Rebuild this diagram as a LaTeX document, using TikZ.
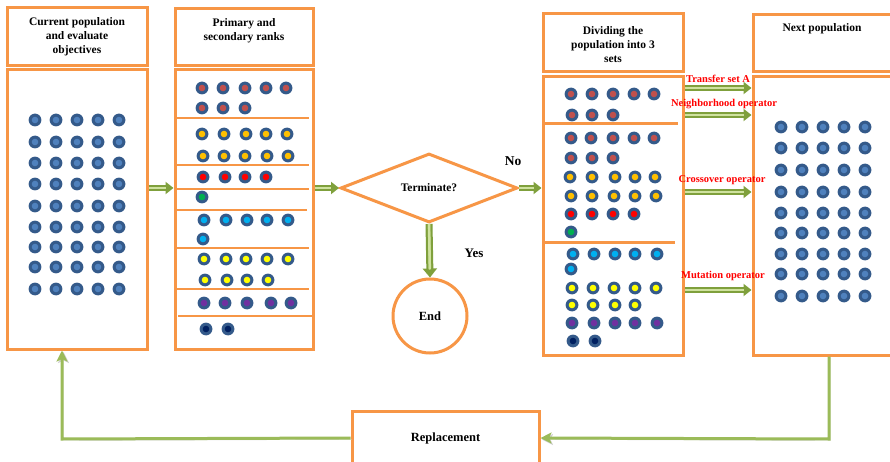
\documentclass[tikz,border=0pt]{standalone}
\usepackage{fontspec}
\setmainfont{Liberation Serif}
\usetikzlibrary{shapes.geometric,arrows.meta,calc}
\definecolor{org}{HTML}{F79646}
\definecolor{dotblue}{HTML}{345A8A}
\definecolor{dotin}{HTML}{4F81BD}
\definecolor{rbrown}{HTML}{C0504D}
\definecolor{gold}{HTML}{FFC000}
\definecolor{lblue}{HTML}{00B0F0}
\definecolor{ylw}{HTML}{FFFF00}
\definecolor{purp}{HTML}{7030A0}
\definecolor{navyc}{HTML}{002060}
\definecolor{grn}{HTML}{00B050}
\definecolor{adark}{HTML}{7FA03C}
\definecolor{alight}{HTML}{CFE29F}
\definecolor{loopg}{HTML}{9BBB59}
\newcommand\popdot[3]{\fill[dotblue] (#1,#2) circle (6.4pt); \fill[#3] (#1,#2) circle (3.3pt);}
\newcommand\poprow[3]{\foreach \xx in {#2} {\popdot{\xx}{#1}{#3}}}
\tikzset{
  box/.style={draw=org, line width=3pt, rectangle, inner sep=0pt, fill=white},
  hdr/.style={font=\bfseries\fontsize{11.5}{14}\selectfont, align=center, inner sep=0pt},
  sepline/.style={draw=org, line width=1.3pt},
  thicksep/.style={draw=org, line width=3pt},
  garrow/.style={draw=adark, line width=6pt, -{Triangle[length=8pt,width=12pt]},
     postaction={draw=alight, line width=2.2pt, shorten >=8pt, -}},
  lab/.style={text=red, font=\bfseries\fontsize{10.5}{12}\selectfont, inner sep=0pt},
  txt/.style={font=\bfseries\fontsize{11.5}{14}\selectfont, inner sep=0pt},
  loopline/.style={draw=loopg, line width=3pt, -{Stealth[length=11pt,width=11pt,inset=2.5pt]},
     preaction={draw=black!18, transform canvas={shift={(1.5pt,-1.5pt)}}}},
}
\begin{document}
\begin{tikzpicture}[x=1pt,y=-1pt]
\useasboundingbox (0,0) rectangle (890,462);
\fill[white] (0,0) rectangle (890,462);

% boxes
\node[box, minimum width=140pt, minimum height=57.5pt] (h1) at (77,36.75) {};
\node[box, minimum width=140pt, minimum height=279pt] (b1) at (77,209.5) {};
\node[box, minimum width=138pt, minimum height=56.5pt] (h2) at (244,37.25) {};
\node[box, minimum width=138pt, minimum height=279pt] (b2) at (244,209.5) {};
\node[box, minimum width=140pt, minimum height=58pt] (h3) at (613,43) {};
\node[box, minimum width=140pt, minimum height=278.5pt] (b3) at (613,215.75) {};
\node[box, minimum width=147pt, minimum height=57pt] (h4) at (826.5,43.5) {};
\node[box, minimum width=147pt, minimum height=278.5pt] (b4) at (826.5,215.75) {};

% titles
\node[hdr] (t1) at (77,37) {Current population\\and evaluate\\objectives};
\node[hdr] (t2) at (244,31) {\fontsize{11.5}{16.5}\selectfont Primary and\\secondary ranks};
\node[hdr] (t3) at (613,45) {\fontsize{11.5}{16}\selectfont Dividing the\\population into 3\\sets};
\node[hdr] (t4) at (822,29) {Next population};

% box 1 dots
\foreach \yy in {120,142,163,184,206,227,247,267,289} {\poprow{\yy}{35,56,77,98,119}{dotin}}
% box 4 dots
\foreach \yy in {127,148,170,192,213,233,254,274,296} {\poprow{\yy}{781,802,823,844,865}{dotin}}

% box 2 ranks
\poprow{88}{202,223,245,266,286}{rbrown}
\poprow{108}{202,223,245}{rbrown}
\draw[sepline] (176,118) -- (309,118);
\poprow{134}{202,224,246,266,287}{gold}
\poprow{156}{203,224,245,267,288}{gold}
\draw[sepline] (176,165) -- (309,165);
\poprow{177}{203,225,245,266}{red}
\draw[sepline] (176,189) -- (309,189);
\poprow{197}{202}{grn}
\draw[sepline] (176,210) -- (307,210);
\poprow{220}{204,226,247,267,288}{lblue}
\poprow{239}{203}{lblue}
\draw[sepline] (176,248) -- (309,248);
\poprow{259}{204,226,246,267,288}{ylw}
\poprow{280}{205,227,247,268}{ylw}
\draw[sepline] (176,289) -- (309,289);
\poprow{303}{204,225,247,271,291}{purp}
\draw[sepline] (178,316) -- (312,316);
\poprow{329}{206,228}{navyc}

% box 3 sets
\poprow{94}{571,592,613,634,654}{rbrown}
\poprow{115}{572,592,613}{rbrown}
\draw[thicksep] (543,124) -- (678,124);
\poprow{138}{571,591,613,634,654}{rbrown}
\poprow{158}{571,592,613}{rbrown}
\poprow{177}{570,592,615,635,655}{gold}
\poprow{196}{571,592,614,635,656}{gold}
\poprow{214}{571,592,613,634}{red}
\poprow{232}{571}{grn}
\draw[thicksep] (543,242) -- (675,242);
\poprow{254}{573,594,615,635,657}{lblue}
\poprow{269}{571}{lblue}
\poprow{288}{572,593,614,635,656}{ylw}
\poprow{305}{572,593,615,635}{ylw}
\poprow{323}{572,594,615,635,657}{purp}
\poprow{341}{573,595}{navyc}

% decision and end
\node[draw=org, line width=3pt, diamond, minimum width=177pt, minimum height=69pt, inner sep=0pt, fill=white, font=\bfseries\fontsize{11.5}{13}\selectfont] (dia) at (429,188) {Terminate?};
\node[draw=org, line width=3pt, circle, minimum size=74pt, inner sep=0pt, fill=white, font=\bfseries\fontsize{12.5}{14}\selectfont] (endc) at (430,316) {End};
\node[txt, font=\bfseries\fontsize{13.5}{15}\selectfont] (no) at (513,161) {No};
\node[txt, font=\bfseries\fontsize{13}{15}\selectfont] (yes) at (474,253) {Yes};

% replacement
\node[box, minimum width=187pt, minimum height=54pt, font=\bfseries\fontsize{12.5}{14}\selectfont] (rep) at (445.5,438) {Replacement};

% loop
\coordinate (lr) at (829,439);
\coordinate (ll) at (62,439);
\draw[loopline] (b4.south -| lr) -- (lr) -- (rep.east);
\draw[loopline] (rep.west) -- (ll) -- (b1.south -| ll);

% green arrows
\draw[garrow] (b1.east |- dia.west) -- (b2.west |- dia.west);
\draw[garrow] (b2.east |- dia.west) -- (dia.west);
\draw[garrow] (dia.east) -- (b3.west |- dia.east);
\draw[garrow, line width=7pt, -{Triangle[length=9pt,width=14pt]}, postaction={draw=alight, line width=2.5pt, shorten >=9pt, -}] (dia.south) -- (endc.north);

\coordinate (yA) at (0,88);
\coordinate (yB) at (0,115);
\coordinate (yC) at (0,192);
\coordinate (yD) at (0,290);
\draw[garrow] (b3.east |- yA) -- (b4.west |- yA);
\draw[garrow] (b3.east |- yB) -- (b4.west |- yB);
\draw[garrow] (b3.east |- yC) -- (b4.west |- yC);
\draw[garrow] (b3.east |- yD) -- (b4.west |- yD);

\node[lab] (la) at (718,79) {Transfer set A};
\node[lab] (lb) at (724,104) {Neighborhood operator};
\node[lab] (lc) at (722,180) {Crossover operator};
\node[lab] (ld) at (723,276) {Mutation operator};
\end{tikzpicture}
\end{document}
